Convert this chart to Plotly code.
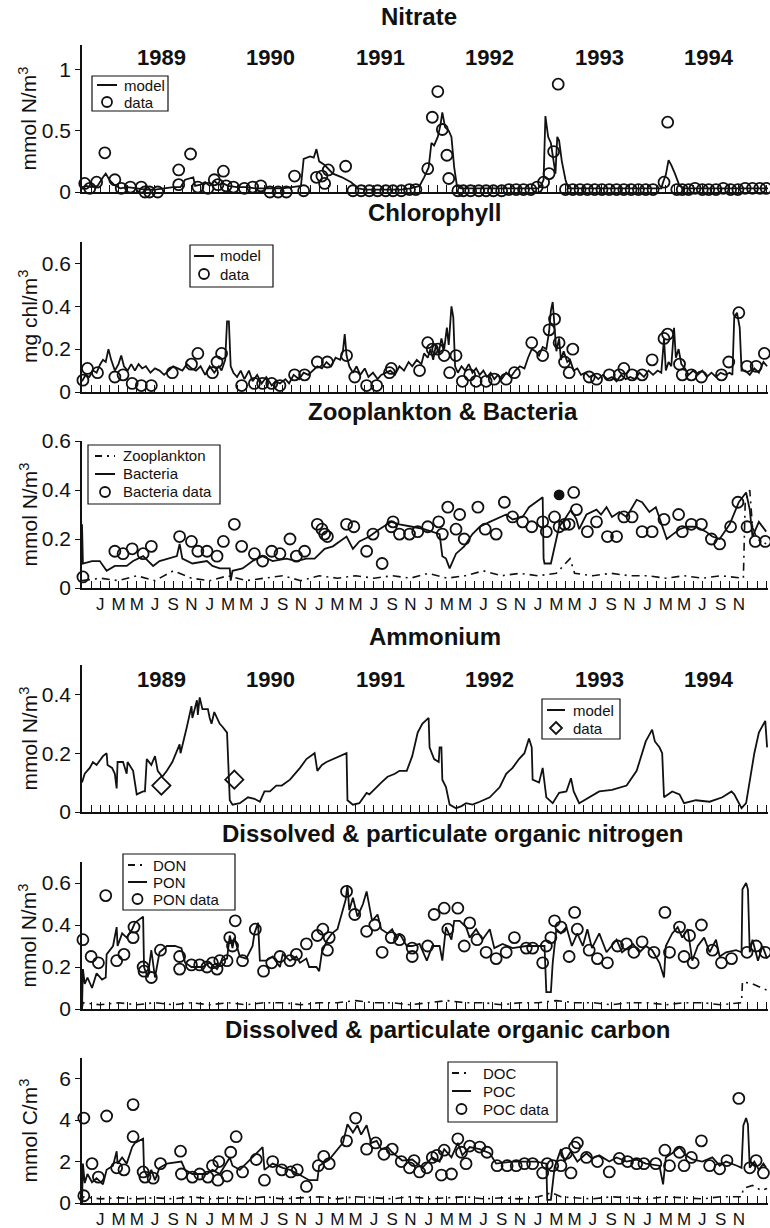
import plotly.graph_objects as go

# Time is expressed in months since 1 January 1989 (0 = Jan 1989).

# ---------------- Nitrate ----------------
nitrate_model_t = [-2.0, -1.5, -1.0, -0.3, 0.3, 0.6, 1.0, 1.5, 2.2, 3.0, 4.0, 5.0, 6.0, 7.0, 8.0, 8.8, 9.3,
                   10.2, 10.4, 11.0, 11.5, 12.0, 12.5, 13.0, 13.5, 14.0, 15.0, 16.0, 17.0, 18.0, 19.0, 20.0,
                   21.0, 22.0, 22.3, 23.0, 23.4, 23.7, 24.0, 24.6, 25.5, 26.5, 27.5, 28.3, 29.0, 30.0, 31.0,
                   32.0, 33.0, 34.0, 35.0, 35.5, 36.0, 36.3, 36.6, 37.0, 37.3, 37.5, 37.8, 38.2, 38.5, 38.8,
                   39.1, 39.5, 41.0, 43.0, 45.0, 47.0, 48.0, 48.3, 48.6, 48.8, 49.1, 49.4, 49.7, 49.9, 50.1,
                   50.3, 50.6, 51.0, 51.3, 53.0, 55.0, 57.0, 59.0, 61.5, 61.7, 62.0, 62.3, 62.6, 63.0, 63.5,
                   64.0, 66.0, 68.0, 70.0, 72.0, 73.2]
nitrate_model_v = [0.04, 0.05, 0.04, 0.05, 0.12, 0.15, 0.10, 0.06, 0.03, 0.04, 0.03, 0.02, 0.02, 0.03, 0.04,
                   0.04, 0.10, 0.12, 0.05, 0.06, 0.08, 0.05, 0.09, 0.06, 0.07, 0.05, 0.04, 0.04, 0.03, 0.03,
                   0.03, 0.03, 0.04, 0.05, 0.27, 0.29, 0.28, 0.35, 0.25, 0.22, 0.15, 0.12, 0.08, 0.03, 0.02,
                   0.02, 0.02, 0.02, 0.02, 0.03, 0.05, 0.12, 0.20, 0.40, 0.38, 0.45, 0.55, 0.65, 0.53, 0.50,
                   0.45, 0.20, 0.05, 0.03, 0.03, 0.03, 0.03, 0.03, 0.03, 0.05, 0.10, 0.62, 0.45, 0.40, 0.25,
                   0.15, 0.45, 0.42, 0.25, 0.10, 0.03, 0.03, 0.03, 0.03, 0.03, 0.03, 0.08, 0.14, 0.26, 0.22,
                   0.15, 0.05, 0.03, 0.03, 0.03, 0.03, 0.03, 0.03]
nitrate_data_t = [-2.2, -1.7, -1.15, -0.4, 0.5, 1.6, 2.3, 3.3, 4.5, 4.9, 5.4, 6.3, 8.6, 8.6, 9.9, 10.7, 11.8,
                  12.5, 12.9, 13.5, 13.8, 14.6, 15.8, 16.7, 17.6, 18.6, 19.5, 20.4, 21.3, 22.3, 23.7, 24.3,
                  24.6, 25.0, 26.9, 27.7, 28.6, 29.5, 30.4, 31.3, 32.1, 33.0, 33.9, 34.6, 35.9, 36.4, 37.0,
                  37.5, 38.0, 38.2, 39.2, 39.8, 40.6, 41.5, 42.3, 43.1, 44.0, 44.8, 45.6, 46.4, 47.2, 47.9,
                  48.6, 49.2, 49.7, 50.2, 51.0, 51.8, 52.6, 53.4, 54.2, 55.0, 55.8, 56.6, 57.4, 58.2, 59.0,
                  59.8, 60.6, 61.8, 62.2, 63.2, 63.8, 64.5, 65.2, 66.0, 66.7, 67.5, 68.3, 69.1, 69.9, 70.7,
                  71.5, 72.3, 73.0]
nitrate_data_v = [0.04, 0.07, 0.03, 0.08, 0.32, 0.10, 0.03, 0.04, 0.04, 0.00, 0.00, 0.00, 0.18, 0.06, 0.31,
                  0.04, 0.03, 0.10, 0.06, 0.17, 0.05, 0.04, 0.03, 0.04, 0.05, 0.00, 0.00, 0.00, 0.13, 0.01,
                  0.12, 0.13, 0.07, 0.18, 0.21, 0.01, 0.01, 0.01, 0.01, 0.01, 0.01, 0.01, 0.02, 0.02, 0.19,
                  0.61, 0.82, 0.51, 0.30, 0.11, 0.01, 0.01, 0.01, 0.01, 0.01, 0.01, 0.01, 0.02, 0.02, 0.02,
                  0.02, 0.04, 0.08, 0.15, 0.33, 0.88, 0.02, 0.02, 0.02, 0.02, 0.02, 0.02, 0.02, 0.02, 0.02,
                  0.02, 0.02, 0.02, 0.02, 0.08, 0.57, 0.02, 0.02, 0.02, 0.03, 0.02, 0.02, 0.02, 0.03, 0.02,
                  0.02, 0.03, 0.03, 0.03, 0.03]

# ---------------- Chlorophyll ----------------
chl_model_t = [-2.0, -1.6, -1.2, -0.8, -0.4, 0.0, 0.3, 0.6, 0.9, 1.2, 1.6, 2.0, 2.3, 2.6, 3.0, 3.4, 3.8, 4.2,
               4.6, 5.0, 5.5, 6.0, 6.5, 7.0, 7.5, 8.0, 8.5, 9.0, 9.5, 10.0, 10.5, 11.0, 11.5, 12.0, 12.5,
               13.0, 13.3, 13.7, 13.9, 14.1, 14.3, 14.6, 15.0, 15.4, 15.8, 16.3, 16.7, 17.2, 17.7, 18.2,
               18.8, 19.2, 19.7, 20.3, 20.7, 21.2, 21.8, 22.3, 22.8, 23.3, 23.8, 24.3, 24.8, 25.3, 25.8,
               26.3, 26.6, 26.8, 27.0, 27.3, 27.7, 28.1, 28.5, 29.0, 29.4, 29.9, 30.4, 30.8, 31.3, 31.8,
               32.3, 32.8, 33.3, 33.8, 34.2, 34.7, 35.2, 35.5, 35.9, 36.2, 36.5, 36.8, 37.1, 37.4, 37.7,
               38.0, 38.2, 38.5, 38.7, 38.9, 39.2, 39.6, 40.0, 40.4, 40.8, 41.2, 41.6, 42.0, 42.4, 42.8,
               43.2, 43.6, 44.0, 44.5, 45.0, 45.5, 46.0, 46.5, 46.9, 47.3, 47.7, 48.1, 48.5, 48.9, 49.2,
               49.4, 49.6, 49.8, 50.0, 50.3, 50.5, 50.8, 51.2, 51.5, 51.9, 52.3, 52.7, 53.2, 53.6, 54.1,
               54.6, 55.1, 55.6, 56.1, 56.6, 57.1, 57.6, 58.1, 58.6, 59.1, 59.6, 60.1, 60.6, 61.1, 61.5,
               61.8, 62.0, 62.3, 62.6, 62.9, 63.1, 63.4, 63.7, 64.1, 64.5, 65.0, 65.5, 66.0, 66.5, 67.0,
               67.5, 68.0, 68.5, 69.0, 69.3, 69.5, 69.8, 70.1, 70.3, 70.7, 71.2, 71.7, 72.2, 72.7, 73.1]
chl_model_v = [0.05, 0.08, 0.07, 0.10, 0.09, 0.13, 0.15, 0.14, 0.20, 0.15, 0.10, 0.13, 0.17, 0.12, 0.10,
               0.13, 0.10, 0.13, 0.11, 0.12, 0.09, 0.11, 0.10, 0.08, 0.10, 0.12, 0.11, 0.10, 0.13, 0.11,
               0.10, 0.12, 0.08, 0.12, 0.09, 0.12, 0.10, 0.15, 0.33, 0.33, 0.12, 0.09, 0.07, 0.10, 0.06,
               0.10, 0.05, 0.08, 0.04, 0.07, 0.03, 0.05, 0.04, 0.06, 0.04, 0.08, 0.06, 0.09, 0.08, 0.10,
               0.12, 0.11, 0.14, 0.12, 0.16, 0.15, 0.19, 0.27, 0.17, 0.12, 0.09, 0.12, 0.08, 0.11, 0.07,
               0.09, 0.06, 0.08, 0.09, 0.10, 0.08, 0.12, 0.10, 0.14, 0.12, 0.15, 0.13, 0.18, 0.16, 0.20,
               0.15, 0.22, 0.18, 0.25, 0.20, 0.30, 0.22, 0.40, 0.35, 0.12, 0.09, 0.12, 0.10, 0.13, 0.09,
               0.11, 0.08, 0.10, 0.07, 0.09, 0.06, 0.08, 0.06, 0.09, 0.07, 0.10, 0.12, 0.11, 0.16, 0.20,
               0.19, 0.17, 0.21, 0.20, 0.28, 0.38, 0.42, 0.30, 0.19, 0.25, 0.15, 0.19, 0.14, 0.15, 0.10,
               0.11, 0.08, 0.09, 0.07, 0.08, 0.06, 0.08, 0.06, 0.07, 0.05, 0.08, 0.06, 0.07, 0.06, 0.09,
               0.07, 0.10, 0.08, 0.10, 0.09, 0.25, 0.10, 0.14, 0.12, 0.30, 0.16, 0.20, 0.13, 0.11, 0.08,
               0.10, 0.08, 0.10, 0.07, 0.09, 0.07, 0.09, 0.08, 0.09, 0.08, 0.35, 0.37, 0.30, 0.10, 0.10,
               0.08, 0.11, 0.09, 0.14, 0.12]
chl_data_t = [-1.9, -1.4, -0.3, 1.6, 2.5, 3.5, 4.5, 5.6, 7.9, 10.0, 10.7, 12.3, 12.8, 13.3, 15.5, 16.9, 17.8,
              18.8, 19.7, 21.3, 22.4, 23.8, 24.9, 27.0, 27.9, 29.2, 30.3, 31.7, 31.9, 35.0, 35.9, 36.4, 37.0,
              37.7, 38.3, 39.0, 39.7, 40.5, 41.2, 42.3, 43.2, 44.5, 45.4, 47.3, 48.5, 49.2, 49.8, 50.3, 50.9,
              51.4, 51.8, 53.6, 54.4, 55.8, 56.9, 57.4, 58.3, 59.4, 60.5, 61.8, 62.2, 63.5, 63.8, 64.8, 65.9,
              68.1, 68.9, 70.0, 70.9, 71.9, 72.8]
chl_data_v = [0.055, 0.11, 0.09, 0.07, 0.08, 0.04, 0.03, 0.03, 0.09, 0.13, 0.18, 0.09, 0.14, 0.18, 0.03,
              0.04, 0.04, 0.04, 0.03, 0.08, 0.08, 0.14, 0.14, 0.17, 0.07, 0.03, 0.03, 0.09, 0.11, 0.10, 0.23,
              0.20, 0.20, 0.17, 0.09, 0.17, 0.05, 0.08, 0.05, 0.05, 0.06, 0.06, 0.09, 0.23, 0.17, 0.29, 0.34,
              0.23, 0.14, 0.09, 0.20, 0.07, 0.06, 0.08, 0.08, 0.11, 0.08, 0.08, 0.15, 0.25, 0.27, 0.13, 0.08,
              0.08, 0.07, 0.08, 0.14, 0.37, 0.12, 0.12, 0.18]

# ---------------- Zooplankton & Bacteria ----------------
zoo_model_t = [-2.0, 0.0, 2.0, 4.0, 6.0, 8.0, 10.0, 12.0, 14.0, 16.0, 18.0, 20.0, 22.0, 24.0, 26.0, 28.0,
               30.0, 32.0, 34.0, 36.0, 38.0, 40.0, 42.0, 44.0, 46.0, 48.0, 50.0, 51.5, 52.0, 54.0, 56.0,
               58.0, 60.0, 62.0, 64.0, 66.0, 68.0, 70.0, 70.5, 70.7, 71.2, 71.5, 72.0, 73.0]
zoo_model_v = [0.03, 0.04, 0.03, 0.05, 0.03, 0.07, 0.04, 0.03, 0.05, 0.03, 0.04, 0.05, 0.03, 0.05, 0.04,
               0.05, 0.04, 0.05, 0.04, 0.06, 0.04, 0.05, 0.07, 0.05, 0.06, 0.05, 0.06, 0.12, 0.06, 0.05,
               0.06, 0.05, 0.05, 0.04, 0.05, 0.04, 0.05, 0.04, 0.04, 0.35, 0.40, 0.25, 0.20, 0.18]
bact_model_t = [-2.0, -1.9, -0.9, -0.05, 0.7, 1.6, 2.9, 3.6, 4.7, 5.8, 6.5, 7.6, 8.4, 8.7, 9.0, 10.1, 11.7,
                12.3, 13.1, 14.2, 14.3, 14.5, 15.6, 16.7, 17.8, 18.9, 20.4, 21.5, 22.6, 23.5, 24.6, 25.5,
                27.0, 27.7, 28.4, 29.5, 30.6, 31.9, 32.8, 34.2, 35.5, 37.2, 37.5, 37.9, 38.3, 39.0, 39.9,
                40.8, 41.6, 42.7, 43.8, 44.5, 45.2, 46.3, 47.0, 47.8, 48.5, 48.6, 48.7, 49.4, 50.0, 50.3,
                50.9, 51.6, 52.2, 52.5, 53.3, 54.4, 54.9, 55.5, 56.1, 56.9, 57.7, 58.8, 59.4, 60.2, 60.9,
                61.6, 62.1, 62.8, 63.5, 64.3, 65.3, 66.4, 67.1, 67.9, 69.0, 70.0, 70.8, 71.2, 71.5, 72.2,
                73.0]
bact_model_v = [0.26, 0.10, 0.11, 0.11, 0.07, 0.09, 0.09, 0.11, 0.13, 0.09, 0.11, 0.12, 0.13, 0.18, 0.12,
                0.10, 0.11, 0.09, 0.08, 0.08, 0.03, 0.07, 0.08, 0.11, 0.13, 0.11, 0.12, 0.11, 0.12, 0.12,
                0.16, 0.17, 0.21, 0.16, 0.19, 0.21, 0.24, 0.27, 0.26, 0.25, 0.24, 0.22, 0.13, 0.12, 0.08,
                0.14, 0.17, 0.22, 0.25, 0.27, 0.29, 0.30, 0.28, 0.29, 0.33, 0.35, 0.37, 0.12, 0.10, 0.10,
                0.20, 0.25, 0.28, 0.32, 0.28, 0.24, 0.30, 0.32, 0.30, 0.33, 0.29, 0.31, 0.29, 0.36, 0.35,
                0.31, 0.33, 0.25, 0.20, 0.22, 0.24, 0.25, 0.25, 0.23, 0.21, 0.20, 0.26, 0.35, 0.39, 0.32,
                0.21, 0.27, 0.23]
bact_data_t = [-1.9, 1.6, 2.5, 3.5, 4.7, 5.6, 8.7, 10.0, 10.7, 11.7, 12.8, 13.5, 14.7, 15.5, 16.9, 17.8,
               18.8, 19.7, 20.8, 21.5, 22.4, 23.8, 24.3, 24.6, 24.9, 27.0, 27.8, 29.2, 29.9, 30.9, 31.9,
               32.1, 32.8, 33.9, 34.8, 35.9, 37.1, 37.5, 38.1, 39.0, 39.4, 39.9, 41.4, 42.2, 43.4, 44.3,
               45.2, 46.3, 47.3, 48.5, 48.9, 49.8, 50.3, 50.3, 50.9, 51.4, 51.9, 52.2, 53.4, 54.4, 55.6,
               56.6, 57.4, 58.3, 59.4, 60.5, 61.8, 63.4, 63.8, 64.8, 65.9, 67.0, 67.9, 69.1, 69.9, 70.9,
               71.8, 72.9]
bact_data_v = [0.045, 0.15, 0.14, 0.16, 0.14, 0.17, 0.21, 0.19, 0.15, 0.15, 0.13, 0.19, 0.26, 0.17, 0.14,
               0.11, 0.15, 0.14, 0.20, 0.13, 0.15, 0.26, 0.24, 0.22, 0.21, 0.26, 0.25, 0.15, 0.22, 0.10,
               0.25, 0.27, 0.22, 0.22, 0.23, 0.25, 0.27, 0.22, 0.33, 0.24, 0.30, 0.20, 0.33, 0.24, 0.22,
               0.35, 0.29, 0.27, 0.25, 0.27, 0.23, 0.29, 0.25, 0.38, 0.26, 0.26, 0.39, 0.32, 0.23, 0.27,
               0.21, 0.21, 0.29, 0.29, 0.23, 0.23, 0.28, 0.30, 0.23, 0.26, 0.26, 0.20, 0.18, 0.25, 0.35,
               0.25, 0.19, 0.19]
bact_data_solid_index = 53   # the one sample printed as a solid dot

# ---------------- Ammonium ----------------
nh4_model_t = [-2.0, -1.7, -1.15, -0.8, -0.4, 0.3, 0.7, 0.8, 1.3, 1.6, 1.8, 1.9, 2.5, 2.9, 3.0, 3.6, 4.0,
               4.7, 4.9, 5.1, 5.6, 6.0, 6.3, 6.8, 7.3, 7.9, 8.7, 8.8, 9.5, 10.0, 10.1, 10.6, 10.7, 10.9,
               11.2, 11.8, 12.0, 12.2, 12.5, 13.1, 13.4, 13.9, 14.2, 14.5, 15.3, 16.2, 16.9, 17.5, 18.0,
               18.6, 19.3, 19.9, 20.8, 21.9, 22.6, 23.5, 23.8, 24.3, 24.8, 25.5, 26.2, 27.0, 27.1, 27.7,
               28.4, 29.2, 29.5, 30.1, 30.8, 31.5, 32.3, 32.8, 33.6, 34.2, 34.8, 35.3, 36.0, 36.1, 36.6,
               37.1, 37.2, 37.4, 37.5, 37.9, 38.3, 39.0, 39.6, 40.1, 40.8, 41.6, 42.7, 43.8, 44.5, 45.2,
               45.9, 46.5, 47.0, 47.3, 47.4, 48.1, 48.5, 48.9, 49.6, 50.3, 51.1, 51.6, 51.9, 52.5, 53.6,
               54.7, 56.1, 57.7, 58.8, 59.8, 60.5, 60.8, 61.3, 61.6, 61.8, 62.7, 63.5, 64.0, 65.3, 66.8,
               68.2, 69.2, 69.5, 70.3, 70.8, 71.2, 71.7, 72.2, 72.9, 73.1]
nh4_model_v = [0.10, 0.13, 0.15, 0.17, 0.16, 0.19, 0.20, 0.16, 0.15, 0.13, 0.08, 0.17, 0.17, 0.13, 0.17,
               0.14, 0.06, 0.07, 0.07, 0.18, 0.16, 0.19, 0.14, 0.12, 0.14, 0.17, 0.23, 0.20, 0.29, 0.36,
               0.32, 0.38, 0.33, 0.39, 0.35, 0.35, 0.32, 0.30, 0.34, 0.30, 0.29, 0.27, 0.04, 0.025, 0.03,
               0.05, 0.045, 0.035, 0.07, 0.07, 0.09, 0.09, 0.11, 0.15, 0.18, 0.20, 0.14, 0.16, 0.17, 0.18,
               0.19, 0.20, 0.04, 0.025, 0.03, 0.065, 0.06, 0.08, 0.10, 0.12, 0.13, 0.14, 0.14, 0.19, 0.27,
               0.30, 0.32, 0.22, 0.18, 0.17, 0.22, 0.22, 0.11, 0.085, 0.025, 0.013, 0.02, 0.03, 0.025,
               0.035, 0.05, 0.085, 0.13, 0.15, 0.18, 0.20, 0.25, 0.22, 0.11, 0.10, 0.15, 0.05, 0.03, 0.065,
               0.07, 0.115, 0.07, 0.03, 0.05, 0.07, 0.075, 0.09, 0.14, 0.24, 0.28, 0.24, 0.22, 0.20, 0.05,
               0.07, 0.06, 0.03, 0.04, 0.035, 0.05, 0.07, 0.06, 0.013, 0.03, 0.11, 0.20, 0.27, 0.31, 0.22]
nh4_data_t = [6.7, 14.7]
nh4_data_v = [0.09, 0.11]

# ---------------- Dissolved & particulate organic nitrogen ----------------
don_model_t = [-2.0, -1.9, 0.0, 2.0, 4.0, 6.0, 8.0, 10.0, 12.0, 14.0, 16.0, 18.0, 20.0, 22.0, 24.0, 26.0,
               28.0, 30.0, 32.0, 34.0, 36.0, 38.0, 40.0, 42.0, 44.0, 46.0, 48.0, 50.0, 52.0, 54.0, 56.0,
               58.0, 60.0, 62.0, 64.0, 66.0, 68.0, 70.3, 70.4, 71.5, 72.5, 73.1]
don_model_v = [0.00, 0.03, 0.02, 0.03, 0.02, 0.03, 0.02, 0.03, 0.02, 0.03, 0.02, 0.03, 0.03, 0.02, 0.03,
               0.03, 0.04, 0.03, 0.03, 0.02, 0.03, 0.04, 0.03, 0.03, 0.02, 0.03, 0.03, 0.04, 0.03, 0.03,
               0.02, 0.03, 0.03, 0.02, 0.03, 0.03, 0.02, 0.03, 0.13, 0.12, 0.10, 0.09]
pon_model_t = [-2.0, -1.9, -1.7, -1.4, -0.9, -0.4, 0.2, 0.6, 0.7, 1.4, 1.8, 1.9, 2.4, 2.9, 3.5, 3.8, 4.7,
               4.8, 5.2, 5.6, 6.0, 6.5, 7.3, 8.2, 8.9, 9.3, 10.0, 11.2, 12.0, 12.8, 13.3, 13.9, 14.2, 14.5,
               14.7, 15.3, 16.0, 16.7, 16.9, 17.3, 17.5, 18.2, 18.9, 19.7, 20.0, 20.8, 21.5, 21.9, 22.6,
               22.9, 23.7, 24.0, 24.3, 24.9, 25.4, 26.0, 26.9, 27.1, 27.3, 27.7, 28.2, 28.8, 29.2, 29.8,
               30.4, 30.8, 31.5, 32.0, 32.5, 32.8, 33.6, 34.2, 35.0, 35.8, 36.4, 37.2, 37.5, 37.9, 38.5,
               38.8, 39.4, 40.1, 40.5, 41.2, 41.9, 42.7, 43.2, 44.1, 45.2, 46.7, 47.8, 48.7, 48.9, 49.4,
               49.6, 50.0, 50.5, 51.1, 51.7, 52.3, 52.9, 53.4, 53.9, 54.7, 55.5, 56.6, 57.2, 58.4, 59.1,
               59.8, 60.5, 61.3, 61.8, 62.0, 62.7, 63.3, 63.8, 64.4, 64.9, 65.5, 66.2, 66.8, 67.5, 67.9,
               68.6, 69.7, 70.3, 70.4, 70.8, 71.0, 71.2, 71.5, 72.1, 72.6, 73.1]
pon_model_v = [0.00, 0.19, 0.12, 0.15, 0.10, 0.17, 0.14, 0.15, 0.26, 0.30, 0.39, 0.30, 0.36, 0.34, 0.38,
               0.41, 0.44, 0.20, 0.15, 0.28, 0.15, 0.27, 0.30, 0.30, 0.29, 0.22, 0.20, 0.20, 0.22, 0.19,
               0.23, 0.24, 0.35, 0.29, 0.34, 0.25, 0.24, 0.30, 0.36, 0.41, 0.23, 0.23, 0.25, 0.20, 0.26,
               0.23, 0.25, 0.22, 0.24, 0.20, 0.20, 0.18, 0.27, 0.33, 0.36, 0.38, 0.52, 0.59, 0.47, 0.53,
               0.44, 0.50, 0.56, 0.42, 0.45, 0.38, 0.36, 0.38, 0.33, 0.36, 0.30, 0.30, 0.31, 0.23, 0.30,
               0.30, 0.23, 0.39, 0.33, 0.42, 0.42, 0.39, 0.34, 0.38, 0.33, 0.38, 0.29, 0.31, 0.29, 0.30,
               0.30, 0.30, 0.08, 0.08, 0.22, 0.38, 0.36, 0.39, 0.30, 0.36, 0.30, 0.38, 0.29, 0.36, 0.27,
               0.33, 0.27, 0.31, 0.27, 0.30, 0.28, 0.22, 0.15, 0.30, 0.36, 0.39, 0.34, 0.38, 0.23, 0.30,
               0.34, 0.27, 0.33, 0.25, 0.27, 0.28, 0.27, 0.57, 0.60, 0.57, 0.27, 0.33, 0.23, 0.30, 0.24]
pon_data_t = [-1.9, -1.0, -0.2, 0.6, 1.8, 2.6, 3.6, 3.7, 4.7, 4.8, 5.6, 6.6, 8.7, 8.7, 10.0, 10.9, 11.7,
              12.3, 12.8, 13.1, 13.9, 14.2, 14.5, 14.8, 15.6, 17.0, 17.9, 18.8, 19.7, 20.8, 21.5, 22.6,
              23.8, 24.4, 24.9, 25.1, 27.0, 27.9, 29.2, 30.1, 30.9, 31.9, 32.8, 34.2, 34.2, 35.9, 36.6,
              37.7, 38.1, 39.2, 39.9, 40.5, 41.3, 42.3, 43.4, 44.5, 45.4, 46.7, 47.4, 48.5, 48.9, 49.4,
              49.8, 50.5, 51.4, 52.0, 52.3, 53.6, 54.5, 55.6, 56.7, 57.7, 58.5, 59.4, 60.7, 61.9, 62.4,
              63.5, 64.0, 64.6, 65.0, 65.9, 67.1, 68.1, 69.2, 70.9, 71.9, 72.9]
pon_data_v = [0.33, 0.25, 0.22, 0.54, 0.23, 0.26, 0.34, 0.39, 0.20, 0.18, 0.15, 0.28, 0.25, 0.19, 0.21,
              0.21, 0.20, 0.22, 0.19, 0.23, 0.23, 0.34, 0.30, 0.42, 0.23, 0.38, 0.18, 0.22, 0.25, 0.23,
              0.26, 0.31, 0.35, 0.38, 0.28, 0.34, 0.56, 0.45, 0.37, 0.40, 0.27, 0.34, 0.33, 0.29, 0.25,
              0.30, 0.45, 0.48, 0.38, 0.48, 0.30, 0.41, 0.33, 0.27, 0.24, 0.27, 0.34, 0.29, 0.29, 0.22,
              0.30, 0.34, 0.42, 0.39, 0.25, 0.46, 0.38, 0.28, 0.24, 0.22, 0.30, 0.31, 0.27, 0.32, 0.27,
              0.46, 0.27, 0.39, 0.25, 0.35, 0.22, 0.40, 0.28, 0.22, 0.24, 0.27, 0.30, 0.27]

# ---------------- Dissolved & particulate organic carbon ----------------
doc_model_t = [-2.0, -1.9, 0.0, 2.0, 4.0, 6.0, 8.0, 10.0, 12.0, 14.0, 16.0, 18.0, 20.0, 22.0, 24.0, 26.0,
               28.0, 30.0, 32.0, 34.0, 36.0, 38.0, 40.0, 42.0, 44.0, 46.0, 48.0, 49.5, 50.5, 52.0, 54.0,
               56.0, 58.0, 60.0, 62.0, 64.0, 66.0, 68.0, 70.3, 70.5, 71.5, 72.5, 73.1]
doc_model_v = [0.0, 0.3, 0.2, 0.25, 0.2, 0.25, 0.2, 0.3, 0.2, 0.25, 0.2, 0.3, 0.2, 0.25, 0.3, 0.2, 0.3,
               0.25, 0.2, 0.3, 0.2, 0.25, 0.3, 0.2, 0.25, 0.2, 0.3, 0.5, 0.3, 0.25, 0.2, 0.3, 0.25, 0.2,
               0.3, 0.25, 0.2, 0.3, 0.3, 0.7, 0.85, 0.6, 0.7]
poc_model_t = [-2.0, -1.9, -1.7, -1.4, -0.9, -0.4, 0.3, 0.7, 1.4, 1.8, 1.9, 2.4, 2.9, 3.5, 3.8, 4.7, 4.8,
               5.2, 5.6, 6.0, 6.5, 7.3, 8.9, 9.3, 10.1, 11.7, 12.3, 13.1, 14.2, 14.5, 15.3, 16.7, 17.8,
               18.0, 18.9, 20.0, 20.8, 21.9, 22.9, 23.8, 24.0, 25.1, 26.6, 27.1, 27.7, 28.2, 28.6, 29.2,
               29.7, 30.3, 30.8, 31.5, 32.0, 33.1, 34.2, 35.3, 36.4, 37.2, 37.7, 38.5, 39.2, 39.7, 40.5,
               41.6, 42.7, 43.4, 45.2, 47.8, 48.9, 49.0, 49.4, 49.8, 50.5, 50.9, 51.6, 52.3, 53.3, 53.9,
               54.7, 55.8, 56.6, 57.7, 58.8, 59.8, 61.3, 61.7, 62.0, 62.7, 63.5, 64.2, 64.9, 66.0, 67.1,
               67.9, 68.6, 69.8, 70.3, 70.5, 70.8, 71.0, 71.2, 71.7, 72.2, 72.7, 73.0]
poc_model_v = [0.0, 1.9, 0.96, 1.4, 1.0, 1.2, 0.9, 1.6, 1.8, 2.5, 1.9, 2.2, 1.9, 2.7, 2.9, 3.1, 1.6, 1.25,
               1.6, 1.1, 1.7, 1.9, 2.0, 1.6, 1.4, 1.4, 1.6, 1.4, 2.2, 1.8, 1.6, 2.2, 2.7, 1.6, 1.9, 1.7,
               1.6, 1.35, 1.1, 1.1, 1.8, 2.1, 2.9, 3.8, 3.4, 3.75, 3.3, 3.75, 2.9, 3.0, 2.6, 2.7, 2.45,
               2.05, 2.1, 1.7, 2.2, 2.0, 2.6, 2.2, 2.9, 2.3, 2.7, 2.6, 2.4, 1.9, 2.0, 2.0, 1.9, 0.15, 0.15,
               1.7, 2.6, 2.0, 2.5, 2.0, 2.4, 2.15, 2.3, 2.0, 2.2, 2.0, 2.1, 1.9, 1.8, 0.9, 2.2, 2.4, 2.7,
               2.3, 2.1, 2.0, 2.2, 1.8, 2.0, 1.8, 1.7, 3.75, 4.1, 3.8, 1.7, 2.0, 1.6, 1.9, 1.7]
poc_data_t = [-1.8, -1.8, -0.9, -0.2, 0.7, 1.8, 2.6, 3.6, 3.6, 4.7, 4.9, 5.8, 6.6, 8.8, 8.9, 10.1, 10.9,
              11.8, 12.3, 12.9, 13.0, 13.9, 14.3, 14.9, 15.6, 17.1, 18.0, 18.9, 19.9, 20.9, 21.6, 22.6,
              23.9, 24.5, 25.1, 27.0, 28.0, 29.2, 30.2, 31.1, 32.0, 33.0, 33.9, 34.4, 35.0, 35.8, 36.4,
              36.9, 37.4, 37.7, 38.5, 39.2, 39.6, 40.1, 40.5, 41.6, 42.4, 43.5, 44.6, 45.6, 46.5, 47.4,
              48.5, 49.0, 49.6, 50.5, 51.1, 51.6, 52.0, 52.3, 53.3, 54.5, 55.8, 56.9, 57.8, 58.8, 59.6,
              60.9, 61.9, 62.4, 63.5, 64.0, 64.8, 65.9, 66.8, 67.9, 68.7, 70.0, 71.2, 71.9, 72.7]
poc_data_v = [4.1, 0.35, 1.9, 1.25, 4.2, 1.7, 1.6, 4.75, 3.2, 1.5, 1.25, 1.2, 1.9, 2.5, 1.4, 1.25, 1.4,
              1.25, 1.8, 1.1, 2.0, 1.3, 2.45, 3.2, 1.5, 2.1, 1.1, 2.0, 1.6, 1.5, 1.6, 0.8, 1.8, 2.25, 1.9,
              3.0, 4.1, 2.6, 2.9, 2.35, 2.6, 2.0, 1.7, 2.05, 1.5, 1.7, 2.2, 2.3, 1.35, 2.55, 1.4, 3.1,
              2.45, 1.9, 2.75, 2.7, 2.45, 1.8, 1.8, 1.8, 1.9, 1.9, 1.45, 1.9, 1.8, 1.8, 2.4, 1.45, 2.7,
              2.9, 2.2, 2.0, 1.5, 2.15, 2.0, 1.9, 1.9, 1.9, 2.55, 1.8, 2.45, 1.8, 2.2, 3.0, 1.8, 1.65,
              2.05, 5.05, 1.7, 2.05, 1.45]

# ---------------- Axis labelling ----------------
years = ["1989", "1990", "1991", "1992", "1993", "1994"]
month_initials = ["J", "M", "M", "J", "S", "N"]

# ---------------------------------------------------------------------------
W, H = 770, 1228
FONT = "Liberation Sans, Arial, Helvetica, sans-serif"
BLACK = "#111111"
X0, X1 = 82, 768                    # horizontal extent of every panel (px)
XRANGE = [-2.0, 73.2]
DASHDOT = "8px,5px,2px,5px"

label_ticks = list(range(0, 71, 2))
label_text = [month_initials[(m % 12) // 2] for m in label_ticks]

# (top px, bottom px, y range, tick values, y title, panel title, title centre px, month labels)
panels = [
    (45, 192, [0, 1.2], [0, 0.5, 1], "mmol N/m<sup>3</sup>", "Nitrate", 419, False),
    (242, 392, [0, 0.7], [0, 0.2, 0.4, 0.6], "mg chl/m<sup>3</sup>", "Chlorophyll", 434, False),
    (441, 588, [0, 0.6], [0, 0.2, 0.4, 0.6], "mmol N/m<sup>3</sup>", "Zooplankton & Bacteria", 443, True),
    (665, 812, [0, 0.5], [0, 0.2, 0.4], "mmol N/m<sup>3</sup>", "Ammonium", 435, False),
    (862, 1009, [0, 0.7], [0, 0.2, 0.4, 0.6], "mmol N/m<sup>3</sup>", "Dissolved & particulate organic nitrogen", 452, False),
    (1058, 1203, [0, 7], [0, 2, 4, 6], "mmol C/m<sup>3</sup>", "Dissolved & particulate organic carbon", 447, True),
]

fig = go.Figure()
layout = dict(
    width=W, height=H, margin=dict(l=0, r=0, t=0, b=0),
    paper_bgcolor="white", plot_bgcolor="white",
    font=dict(family=FONT, color=BLACK), showlegend=False,
)
annotations = []
shapes = []

for i, (top, bot, yr, yt, ytitle, title, tcx, months) in enumerate(panels, start=1):
    sfx = "" if i == 1 else str(i)
    xa = dict(
        domain=[X0 / W, X1 / W], range=XRANGE, anchor="y" + sfx,
        ticks="inside", ticklen=7, tickwidth=1.3, tickcolor=BLACK,
        showline=True, linecolor=BLACK, linewidth=1.6,
        showgrid=False, zeroline=False, automargin=False,
        tickfont=dict(size=17, family=FONT, color=BLACK),
        minor=dict(tickmode="linear", tick0=-2, dtick=1, ticks="inside", ticklen=7,
                   tickwidth=1.3, tickcolor=BLACK, showgrid=False),
    )
    if months:
        xa.update(tickmode="array", tickvals=label_ticks, ticktext=label_text, showticklabels=True)
    else:
        xa.update(tickmode="linear", tick0=-2, dtick=1, showticklabels=False)
    layout["xaxis" + sfx] = xa
    layout["yaxis" + sfx] = dict(
        domain=[1 - bot / H, 1 - top / H], range=yr, anchor="x" + sfx,
        tickmode="array", tickvals=yt,
        ticks="outside", ticklen=5, tickwidth=1.3, tickcolor=BLACK,
        showline=True, linecolor=BLACK, linewidth=1.6,
        showgrid=False, zeroline=False, automargin=False,
        tickfont=dict(size=21, family=FONT, color=BLACK),
    )
    annotations.append(dict(
        text=title, x=tcx / W, y=1 - (top - 29) / H, xref="paper", yref="paper",
        xanchor="center", yanchor="middle", showarrow=False,
        font=dict(size=24, family=FONT, color=BLACK, weight="bold"),
    ))
    annotations.append(dict(
        text=ytitle, x=28 / W, y=1 - (top + bot) / 2 / H, xref="paper", yref="paper",
        xanchor="center", yanchor="middle", showarrow=False, textangle=-90,
        font=dict(size=21, family=FONT, color=BLACK),
    ))

# year labels over the nitrate and ammonium panels
for sfx, yv in (("", 1.1), ("4", 0.45)):
    for k, yr_txt in enumerate(years):
        annotations.append(dict(
            text=yr_txt, x=6.7 + 12 * k, y=yv, xref="x" + sfx, yref="y" + sfx,
            xanchor="center", yanchor="middle", showarrow=False,
            font=dict(size=22, family=FONT, color=BLACK, weight="bold"),
        ))

line_solid = dict(color=BLACK, width=1.8)
line_dash = dict(color=BLACK, width=1.6, dash=DASHDOT)
open_circle = dict(symbol="circle-open", size=11, color=BLACK, line=dict(width=1.8, color=BLACK))


def add(x, y, name, sfx, mode="lines", line=None, marker=None):
    fig.add_trace(go.Scatter(
        x=x, y=y, name=name, mode=mode, line=line, marker=marker,
        xaxis="x" + sfx, yaxis="y" + sfx, cliponaxis=False,
    ))


add(nitrate_model_t, nitrate_model_v, "model", "", line=line_solid)
add(nitrate_data_t, nitrate_data_v, "data", "", mode="markers", marker=open_circle)
add(chl_model_t, chl_model_v, "model", "2", line=line_solid)
add(chl_data_t, chl_data_v, "data", "2", mode="markers", marker=open_circle)
add(zoo_model_t, zoo_model_v, "Zooplankton", "3", line=line_dash)
add(bact_model_t, bact_model_v, "Bacteria", "3", line=line_solid)
bact_symbols = ["circle" if k == bact_data_solid_index else "circle-open" for k in range(len(bact_data_t))]
add(bact_data_t, bact_data_v, "Bacteria data", "3", mode="markers",
    marker=dict(open_circle, symbol=bact_symbols, opacity=1,
                size=[9 if s == "circle" else 11 for s in bact_symbols]))
add(nh4_model_t, nh4_model_v, "model", "4", line=line_solid)
add(nh4_data_t, nh4_data_v, "data", "4", mode="markers",
    marker=dict(symbol="diamond-open", size=14, color=BLACK, line=dict(width=1.8, color=BLACK)))
add(don_model_t, don_model_v, "DON", "5", line=line_dash)
add(pon_model_t, pon_model_v, "PON", "5", line=line_solid)
add(pon_data_t, pon_data_v, "PON data", "5", mode="markers", marker=open_circle)
add(doc_model_t, doc_model_v, "DOC", "6", line=line_dash)
add(poc_model_t, poc_model_v, "POC", "6", line=line_solid)
add(poc_data_t, poc_data_v, "POC data", "6", mode="markers", marker=open_circle)

# ---- boxed keys (drawn in figure pixels) ----
def px(x):
    return x / W


def py(y):
    return 1 - y / H


# box (x0, y0, x1, y1), symbol x-span, text x, rows: (row y, kind, label)
keys = [
    ((92, 76, 168, 111), (97, 117), 122, [(85, "line", "model"), (102, "circle", "data")]),
    ((190, 245, 273, 287), (194, 214), 218, [(256, "line", "model"), (274, "circle", "data")]),
    ((88, 445, 220, 504), (95, 115), 121, [(456, "dash", "Zooplankton"), (474, "line", "Bacteria"),
                                           (492, "circle", "Bacteria data")]),
    ((542, 699, 620, 739), (547, 565), 571, [(710, "line", "model"), (728, "diamond", "data")]),
    ((123, 854, 235, 910), (128, 147), 151, [(865, "dash", "DON"), (882, "line", "PON"),
                                             (899, "circle", "PON data")]),
    ((448, 1062, 557, 1122), (452, 471), 481, [(1073, "dash", "DOC"), (1091, "line", "POC"),
                                               (1109, "circle", "POC data")]),
]
for (bx0, by0, bx1, by1), (sx0, sx1), tx, rows in keys:
    shapes.append(dict(type="rect", xref="paper", yref="paper",
                       x0=px(bx0), x1=px(bx1), y0=py(by1), y1=py(by0),
                       line=dict(color=BLACK, width=1.2), fillcolor="white", layer="above"))
    for ry, kind, label in rows:
        cx = (sx0 + sx1) / 2
        if kind in ("line", "dash"):
            shapes.append(dict(type="line", xref="paper", yref="paper",
                               x0=px(sx0), x1=px(sx1), y0=py(ry), y1=py(ry), layer="above",
                               line=dict(color=BLACK, width=2.0 if kind == "line" else 1.8,
                                         dash="solid" if kind == "line" else "7px,5px,2px,5px")))
        elif kind == "circle":
            shapes.append(dict(type="circle", xref="paper", yref="paper", layer="above",
                               x0=px(cx - 5), x1=px(cx + 5), y0=py(ry + 5), y1=py(ry - 5),
                               line=dict(color=BLACK, width=1.8)))
        else:
            shapes.append(dict(type="path", xref="paper", yref="paper", layer="above",
                               path=f"M {px(cx)} {py(ry - 6)} L {px(cx + 6)} {py(ry)} "
                                    f"L {px(cx)} {py(ry + 6)} L {px(cx - 6)} {py(ry)} Z",
                               line=dict(color=BLACK, width=1.8)))
        annotations.append(dict(text=label, x=px(tx), y=py(ry), xref="paper", yref="paper",
                                xanchor="left", yanchor="middle", showarrow=False,
                                font=dict(size=15, family=FONT, color=BLACK)))

layout["annotations"] = annotations
layout["shapes"] = shapes
fig.update_layout(**layout)
fig.write_html("out.html")
